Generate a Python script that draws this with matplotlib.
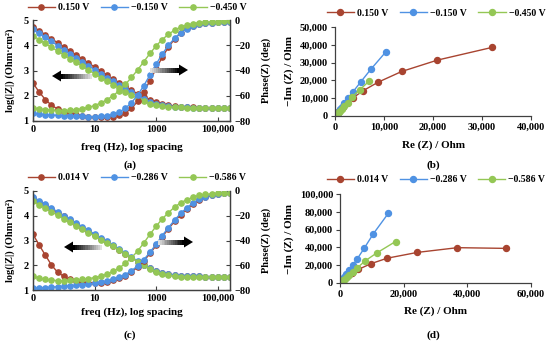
import numpy as np
import matplotlib
matplotlib.use('Agg')
import matplotlib.pyplot as plt
from matplotlib.patches import Rectangle, Polygon
from matplotlib.ticker import FuncFormatter

plt.rcParams['font.family'] = ['Liberation Serif', 'DejaVu Serif']
plt.rcParams['font.weight'] = 'bold'
plt.rcParams['axes.labelweight'] = 'bold'

# frequencies (Hz), 5 points per decade, shown as "log spacing"
freq = [0.1, 0.158, 0.251, 0.398, 0.631, 1, 1.58, 2.51, 3.98, 6.31,
        10, 15.8, 25.1, 39.8, 63.1, 100, 158, 251, 398, 631,
        1000, 1580, 2510, 3980, 6310, 10000, 15800, 25100, 39800, 63100,
        100000, 158000, 251000]
freq_ticks = [0.1, 10, 1000, 100000]
freq_ticklabels = ['0', '10', '1000', '100,000']

# panel (a): log|Z| and phase
labels_a = ['0.150 V', '\u22120.150 V', '\u22120.450 V']
za_red = [4.74, 4.58, 4.42, 4.26, 4.10, 3.94, 3.78, 3.62, 3.46, 3.30, 3.14, 2.98, 2.82, 2.67, 2.52, 2.37, 2.22,
          2.08, 1.95, 1.84, 1.75, 1.68, 1.63, 1.59, 1.57, 1.55, 1.54, 1.53, 1.53, 1.53, 1.52, 1.52, 1.52]
za_blue = [4.63, 4.47, 4.31, 4.15, 3.99, 3.83, 3.67, 3.51, 3.35, 3.19, 3.03, 2.87, 2.72, 2.57, 2.42, 2.27, 2.13,
           1.99, 1.87, 1.77, 1.69, 1.63, 1.59, 1.57, 1.55, 1.54, 1.53, 1.53, 1.53, 1.52, 1.52, 1.52, 1.52]
za_green = [4.38, 4.22, 4.07, 3.92, 3.77, 3.62, 3.47, 3.32, 3.17, 3.02, 2.87, 2.72, 2.58, 2.44, 2.30, 2.16, 2.02,
            1.89, 1.78, 1.69, 1.63, 1.59, 1.56, 1.55, 1.54, 1.53, 1.53, 1.52, 1.52, 1.52, 1.52, 1.52, 1.52]
pa_red = [-50, -57, -63, -67.5, -70.5, -72.5, -74, -75, -76, -76.5, -77, -77, -77, -76.5, -75.5, -73.5, -70,
          -64.5, -57, -48, -38.5, -29.5, -21.5, -15, -10, -6.5, -4.5, -3.2, -2.5, -2, -1.8, -1.6, -1.5]
pa_blue = [-74, -74.5, -75, -75.3, -75.5, -75.7, -76, -76.2, -76.4, -76.5, -76.5, -76.3, -75.8, -74.8, -73, -70,
           -65.5, -59.5, -52, -43.5, -35, -27, -20, -14.5, -10, -7, -5, -3.5, -2.7, -2.2, -1.9, -1.7, -1.6]
pa_green = [-69.5, -70.5, -71, -71.5, -71.7, -71.7, -71.5, -71, -70.3, -69.2, -67.8, -65.8, -63.2, -60, -56, -51,
            -45.5, -39.5, -33, -26.5, -20.5, -15.5, -11.3, -8, -5.6, -4, -2.9, -2.2, -1.7, -1.4, -1.2, -1.1, -1]

# panel (c): log|Z| and phase
labels_c = ['0.014 V', '\u22120.286 V', '\u22120.586 V']
zc_red = [4.72, 4.57, 4.42, 4.27, 4.12, 3.97, 3.82, 3.67, 3.52, 3.37, 3.22, 3.07, 2.92, 2.77, 2.62, 2.47, 2.31,
          2.15, 2.00, 1.87, 1.77, 1.69, 1.63, 1.59, 1.57, 1.56, 1.55, 1.55, 1.54, 1.54, 1.54, 1.54, 1.54]
zc_blue = [4.76, 4.61, 4.46, 4.31, 4.16, 4.01, 3.86, 3.71, 3.56, 3.41, 3.26, 3.11, 2.96, 2.81, 2.66, 2.50, 2.34,
           2.17, 2.01, 1.88, 1.78, 1.70, 1.64, 1.60, 1.58, 1.56, 1.55, 1.55, 1.54, 1.54, 1.54, 1.54, 1.54]
zc_green = [4.58, 4.44, 4.30, 4.16, 4.02, 3.88, 3.74, 3.60, 3.46, 3.32, 3.18, 3.04, 2.90, 2.76, 2.62, 2.47, 2.31,
            2.15, 1.99, 1.85, 1.74, 1.66, 1.60, 1.56, 1.54, 1.53, 1.52, 1.52, 1.52, 1.52, 1.52, 1.52, 1.52]
pc_red = [-35, -43.6, -51.8, -59.8, -65.7, -69, -71.5, -73, -73.8, -74.2, -74.3, -74, -73.3, -72.2, -70.6, -68.4,
          -65.5, -61.5, -56.5, -50.5, -44, -37, -30.5, -24.5, -19, -14.5, -10.5, -7.5, -5, -3.5, -2.5, -2, -2]
pc_blue = [-78.5, -78.3, -78, -77.7, -77.3, -77, -76.6, -76.2, -75.7, -75.2, -74.6, -73.8, -72.8, -71.5, -69.8,
           -67.5, -64.5, -60.5, -55.5, -49.5, -43, -36, -29.5, -23.5, -18, -13.5, -9.5, -6.5, -4.5, -3, -2.3, -2, -2]
pc_green = [-69, -70.5, -71.5, -72, -72.5, -72.5, -72.3, -72, -71.5, -70.8, -70, -68.8, -67.2, -65, -62.2, -58.5,
            -54, -48.5, -42, -35, -28.5, -22.5, -17.5, -13, -9.5, -7, -5, -3.6, -2.8, -2.3, -2, -2, -2]

# panel (b): Nyquist
nb_red_re = [32000, 20900, 13600, 8800, 5800, 3700, 2400, 1600, 1050, 700, 470, 320, 220, 150, 100]
nb_red_im = [38500, 31400, 25000, 19000, 14300, 10300, 7200, 5050, 3550, 2450, 1690, 1160, 800, 550, 380]
nb_blue_re = [10400, 7300, 5300, 3700, 2600, 1900, 1370, 1000, 730, 520, 380, 280, 200, 150]
nb_blue_im = [36100, 26200, 19300, 13700, 9900, 7150, 5170, 3770, 2700, 1930, 1400, 1000, 720, 520]
nb_green_re = [7000, 5000, 3400, 2600, 1850, 1350, 990, 720, 530, 380, 280, 200]
nb_green_im = [19700, 14600, 10500, 7550, 5500, 3980, 2890, 2080, 1510, 1090, 780, 560]

# panel (d): Nyquist
nd_red_re = [52200, 37000, 24400, 14900, 9800, 5800, 3700, 2600, 1800, 1300, 950, 700, 500, 350]
nd_red_im = [38900, 39700, 34400, 27900, 21800, 15300, 11400, 8500, 6350, 4600, 3370, 2500, 1830, 1300]
nd_blue_re = [15200, 10500, 7600, 5500, 4000, 2800, 1950, 1400, 1000, 720, 520, 370]
nd_blue_im = [78200, 55300, 38900, 27500, 19800, 14100, 10000, 7060, 5000, 3530, 2550, 1770]
nd_green_re = [17500, 11500, 7900, 5500, 4150, 2950, 2100, 1500, 1100, 800, 600]
nd_green_im = [46600, 33600, 24800, 17200, 12400, 9000, 6570, 4770, 3430, 2480, 1800]

colors = ['#A84430', '#4F92E3', '#94C755']
axis_col = '#404040'
W, H = 550, 346

fig = plt.figure(figsize=(W / 100, H / 100), dpi=100)


def px_rect(x0, x1, top, bottom):
    return [x0 / W, 1 - bottom / H, (x1 - x0) / W, (bottom - top) / H]


def grad_arrow(x_tail, x_head, y):
    # shaft fading from light grey to black, black triangular head
    d = 1 if x_head > x_tail else -1
    shaft_end = x_head - d * 9
    n = 14
    step = (shaft_end - x_tail) / n
    for k in range(n):
        g = 0.88 * (1 - k / (n - 1))
        fig.add_artist(Rectangle(((x_tail + k * step) / W, 1 - (y + 2.5) / H), (step * 1.15) / W, 5 / H,
                                 transform=fig.transFigure, color=str(g), lw=0))
    fig.add_artist(Polygon([(shaft_end / W, 1 - (y - 5.5) / H), (x_head / W, 1 - y / H),
                            (shaft_end / W, 1 - (y + 5.5) / H)], closed=True,
                           transform=fig.transFigure, color='black', lw=0))


def legend_row(handles, labels, cx, cy):
    fig.legend(handles, labels, loc='center', bbox_to_anchor=(cx / W, 1 - cy / H), ncol=3, frameon=False,
               fontsize=7, handlelength=2.8, columnspacing=1.2, handletextpad=0.3, borderpad=0)


def bode(rect, zs, ps, labels, leg_y, tag, tag_y, xlab_y):
    ax = fig.add_axes(rect)
    ax2 = ax.twinx()
    handles = []
    for z, c in zip(zs, colors):
        h, = ax.plot(freq, z, '-o', color=c, ms=3.8, lw=1, mec=c)
        handles.append(h)
    for p, c in zip(ps, colors):
        ax2.plot(freq, p, '-o', color=c, ms=3.8, lw=1, mec=c)
    ax.set_xscale('log')
    ax.set_xlim(freq[0], freq[-1])
    ax.set_ylim(1, 5)
    ax2.set_ylim(-80, 0)
    ax.set_xticks(freq_ticks)
    ax.set_xticklabels(freq_ticklabels)
    ax.xaxis.set_minor_locator(matplotlib.ticker.NullLocator())
    ax.set_yticks([1, 2, 3, 4, 5])
    ax2.set_yticks([0, -20, -40, -60, -80])
    for a in (ax, ax2):
        a.spines['top'].set_visible(False)
        for s in a.spines.values():
            s.set_color(axis_col)
            s.set_linewidth(0.9)
        a.tick_params(direction='in', length=3, colors=axis_col, labelcolor='black', labelsize=7.5, pad=3)
    ax.set_ylabel('log(|Z|) (Ohm\u00b7cm\u00b2)', fontsize=7.5)
    ax.yaxis.set_label_coords(-0.09, 0.5)
    ax2.set_ylabel('Phase(Z) (deg)', fontsize=7.5)
    ax2.yaxis.set_label_coords(1.157, 0.5)
    ax.set_xlabel('freq (Hz), log spacing', fontsize=8)
    ax.xaxis.set_label_coords(0.5, xlab_y)
    legend_row(handles, labels, 137, leg_y)
    fig.text(130 / W, 1 - tag_y / H, tag, ha='center', va='center', fontsize=8)


def nyquist(rect, res, ims, labels, leg_y, ymax, ystep, xmax, xstep, tag, tag_y, xlab_y):
    ax = fig.add_axes(rect)
    handles = []
    for re, im, c in zip(res, ims, colors):
        h, = ax.plot(re, im, '-o', color=c, ms=4.3, lw=1, mec=c)
        handles.append(h)
    ax.set_xlim(0, xmax)
    ax.set_ylim(0, ymax)
    ax.set_xticks(np.arange(0, xmax + 1, xstep))
    ax.set_yticks(np.arange(0, ymax + 1, ystep))
    fmt = FuncFormatter(lambda v, pos: '{:,.0f}'.format(v))
    ax.xaxis.set_major_formatter(fmt)
    ax.yaxis.set_major_formatter(fmt)
    for s in ('top', 'right'):
        ax.spines[s].set_visible(False)
    for s in ('left', 'bottom'):
        ax.spines[s].set_color(axis_col)
        ax.spines[s].set_linewidth(0.9)
    ax.tick_params(direction='out', length=3, colors=axis_col, labelcolor='black', labelsize=7.5, pad=2)
    ax.set_ylabel('\u2212Im (Z) / Ohm', fontsize=8)
    ax.set_xlabel('Re (Z) / Ohm', fontsize=8)
    ax.xaxis.set_label_coords(0.5, xlab_y)
    legend_row(handles, labels, 436, leg_y)
    fig.text(433 / W, 1 - tag_y / H, tag, ha='center', va='center', fontsize=8)
    return ax


bode(px_rect(33, 230, 20, 121), [za_red, za_blue, za_green], [pa_red, pa_blue, pa_green],
     labels_a, 8, '(a)', 165, -0.21)
bode(px_rect(33, 230, 191, 290), [zc_red, zc_blue, zc_green], [pc_red, pc_blue, pc_green],
     labels_c, 178, '(c)', 335, -0.18)
axb = nyquist(px_rect(335, 531, 27, 116), [nb_red_re, nb_blue_re, nb_green_re],
              [nb_red_im, nb_blue_im, nb_green_im], labels_a, 13, 50000, 10000, 40000, 10000,
              '(b)', 165, -0.27)
axb.yaxis.set_label_coords(-0.21, 0.5)
axd = nyquist(px_rect(340, 530.5, 194, 283), [nd_red_re, nd_blue_re, nd_green_re],
              [nd_red_im, nd_blue_im, nd_green_im], labels_c, 180, 100000, 20000, 60000, 20000,
              '(d)', 335, -0.26)
axd.yaxis.set_label_coords(-0.24, 0.5)

# direction arrows in the Bode plots
grad_arrow(92, 52, 76)
grad_arrow(150, 188, 70)
grad_arrow(102, 64, 247)
grad_arrow(158, 193, 242)

fig.savefig('out.png', dpi=100)
